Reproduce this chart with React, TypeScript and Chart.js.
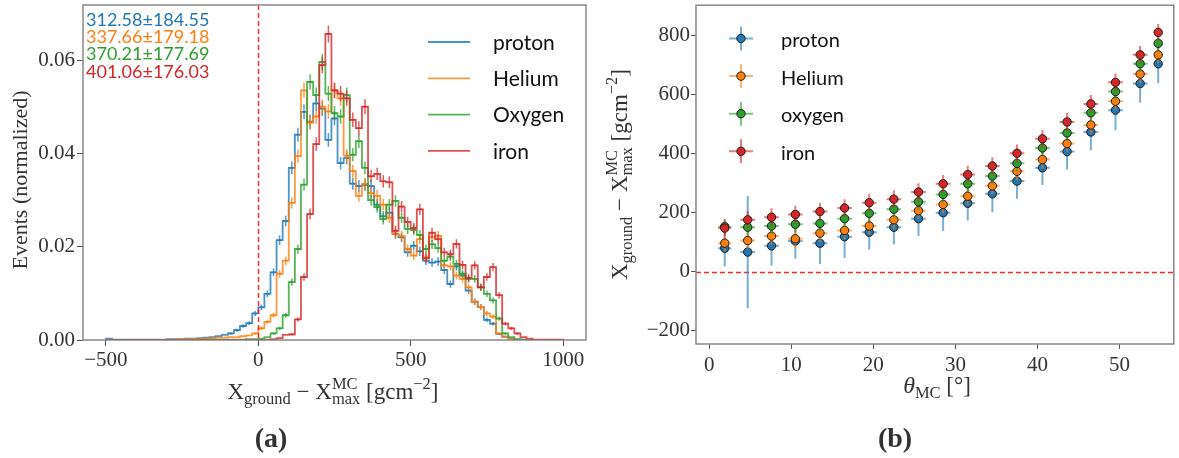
import React, { useEffect, useRef } from "react";
import { Chart, registerables } from "chart.js";

Chart.register(...registerables);

const SERIF = "'Liberation Serif', 'DejaVu Serif', serif";
const SANS = "Lato, 'DejaVu Sans', sans-serif";
const TEXT = "#333333";
const FRAME = "#808080";

const BLUE = "#1f77b4";
const ORANGE = "#ff7f0e";
const GREEN = "#2ca02c";
const RED = "#d62728";

// ---------------- panel (a): X_ground - X_max distributions ----------------
const BIN_START = -500;
const BIN_WIDTH = 20;
const HIST_EVENTS = 20000; // events per primary, sets the Poisson error bars

const HIST_PROTON = [
  0.0003, 0.0001, 0.0001, 0.0001, 0.0001, 0.0001, 0.0001, 0.0001, 0.0001, 0.0001,
  0.0002, 0.0002, 0.0002, 0.0003, 0.0003, 0.0004, 0.0005, 0.0006, 0.0008, 0.0011,
  0.0014, 0.0021, 0.0030, 0.0036, 0.0057, 0.0070, 0.0099, 0.0145, 0.0214, 0.0255,
  0.0369, 0.0440, 0.0489, 0.0468, 0.0507, 0.0496, 0.0429, 0.0475, 0.0379, 0.0390,
  0.0335, 0.0330, 0.0332, 0.0330, 0.0290, 0.0265, 0.0273, 0.0228, 0.0220, 0.0188,
  0.0202, 0.0190, 0.0170, 0.0166, 0.0168, 0.0150, 0.0120, 0.0158, 0.0138, 0.0106,
  0.0082, 0.0071, 0.0043, 0.0035, 0.0013, 0.0007, 0.0003, 0.0001, 0.0001, 0,
  0, 0, 0, 0, 0,
];
const HIST_HELIUM = [
  0, 0, 0, 0, 0, 0, 0, 0, 0, 0,
  0.0001, 0.0001, 0.0002, 0.0002, 0.0002, 0.0003, 0.0003, 0.0004, 0.0005, 0.0005,
  0.0006, 0.0006, 0.0008, 0.0010, 0.0014, 0.0025, 0.0039, 0.0053, 0.0142, 0.0170,
  0.0294, 0.0394, 0.0535, 0.0466, 0.0479, 0.0500, 0.0490, 0.0535, 0.0518, 0.0395,
  0.0362, 0.0309, 0.0335, 0.0315, 0.0309, 0.0290, 0.0262, 0.0227, 0.0223, 0.0195,
  0.0181, 0.0216, 0.0177, 0.0220, 0.0223, 0.0160, 0.0158, 0.0138, 0.0131, 0.0113,
  0.0082, 0.0071, 0.0057, 0.0050, 0.0014, 0.0007, 0.0003, 0.0001, 0, 0,
  0, 0, 0, 0, 0,
];
const HIST_OXYGEN = [
  0, 0, 0, 0, 0, 0, 0, 0, 0, 0,
  0, 0, 0, 0, 0, 0.0001, 0.0001, 0.0001, 0.0001, 0.0001,
  0.0001, 0.0001, 0.0001, 0.0002, 0.0002, 0.0003, 0.0006, 0.0014, 0.0025, 0.0053,
  0.0124, 0.0195, 0.0333, 0.0553, 0.0525, 0.0596, 0.0528, 0.0486, 0.0479, 0.0525,
  0.0397, 0.0426, 0.0369, 0.0300, 0.0285, 0.0259, 0.0290, 0.0298, 0.0262, 0.0238,
  0.0236, 0.0225, 0.0195, 0.0205, 0.0197, 0.0170, 0.0179, 0.0163, 0.0142, 0.0131,
  0.0131, 0.0113, 0.0099, 0.0085, 0.0046, 0.0014, 0.0006, 0.0002, 0.0001, 0,
  0, 0, 0, 0, 0,
];
const HIST_IRON = [
  0, 0, 0, 0, 0, 0, 0, 0, 0, 0,
  0, 0, 0, 0, 0, 0, 0, 0, 0, 0,
  0, 0, 0, 0, 0, 0, 0.0001, 0.0002, 0.0004, 0.0011,
  0.0012, 0.0044, 0.0135, 0.0270, 0.0420, 0.0589, 0.0656, 0.0535, 0.0528, 0.0518,
  0.0472, 0.0454, 0.0500, 0.0351, 0.0356, 0.0340, 0.0338, 0.0234, 0.0286, 0.0253,
  0.0240, 0.0280, 0.0175, 0.0230, 0.0216, 0.0188, 0.0184, 0.0206, 0.0161, 0.0133,
  0.0160, 0.0113, 0.0135, 0.0156, 0.0096, 0.0035, 0.0025, 0.0014, 0.0006, 0.0003,
  0.0001, 0.0001, 0.0001, 0.0001, 0.0001,
];
const HIST_LABELS = ["proton", "Helium", "Oxygen", "iron"];
const HIST_MEANS = ["312.58±184.55", "337.66±179.18", "370.21±177.69", "401.06±176.03"];
const HIST_X_TICKS = [-500, 0, 500, 1000];
const HIST_Y_TICKS = [0, 0.02, 0.04, 0.06];

// ---------------- panel (b): offset versus zenith angle ----------------
const THETA = [1.9, 4.7, 7.6, 10.5, 13.5, 16.5, 19.5, 22.5, 25.5, 28.5, 31.5, 34.5, 37.5, 40.6, 43.6, 46.5, 49.5, 52.5, 54.7];
const THETA_ERR = [0.8, 0.9, 0.9, 0.9, 0.9, 0.9, 0.9, 0.9, 0.9, 0.9, 0.9, 0.9, 0.9, 0.9, 0.9, 0.9, 0.9, 0.9, 0.3];
const OFFSET_PROTON = [79, 66, 87, 103, 96, 118, 133, 150, 179, 199, 231, 263, 306, 351, 406, 472, 546, 636, 703];
const OFFSET_PROTON_ERR = [62, 190, 67, 60, 70, 72, 58, 58, 59, 62, 58, 62, 60, 58, 61, 62, 68, 65, 65];
const OFFSET_HELIUM = [96, 105, 120, 111, 130, 139, 154, 175, 206, 227, 255, 290, 339, 379, 433, 496, 576, 668, 733];
const OFFSET_HELIUM_ERR = [28, 30, 30, 32, 30, 30, 28, 30, 28, 30, 30, 28, 30, 30, 28, 30, 30, 30, 28];
const OFFSET_OXYGEN = [152, 150, 154, 160, 163, 179, 197, 211, 236, 261, 297, 323, 366, 418, 469, 537, 609, 703, 772];
const OFFSET_OXYGEN_ERR = [26, 28, 27, 28, 28, 27, 28, 27, 28, 28, 27, 28, 28, 27, 28, 28, 28, 28, 28];
const OFFSET_IRON = [147, 175, 184, 193, 203, 215, 233, 245, 269, 297, 328, 357, 400, 449, 506, 567, 640, 733, 809];
const OFFSET_IRON_ERR = [28, 30, 30, 30, 30, 30, 30, 30, 30, 30, 30, 30, 30, 30, 30, 30, 30, 30, 28];
const OFFSET_LABELS = ["proton", "Helium", "oxygen", "iron"];
const THETA_TICKS = [0, 10, 20, 30, 40, 50];
const OFFSET_TICKS = [-200, 0, 200, 400, 600, 800];

// ---------------- helpers ----------------
function rgba(hex: string, a: number) {
  const n = parseInt(hex.slice(1), 16);
  return `rgba(${n >> 16},${(n >> 8) & 255},${n & 255},${a})`;
}
const minus = (v: number) => (v < 0 ? "\u2212" + Math.abs(v) : String(v));

type Seg = { text: string; size: number; dy?: number; italic?: boolean; weight?: string; under?: { text: string; size: number; dy: number } };

function drawRichText(ctx: CanvasRenderingContext2D, segs: Seg[], x: number, y: number, rotated: boolean) {
  ctx.save();
  ctx.translate(x, y);
  if (rotated) ctx.rotate(-Math.PI / 2);
  ctx.fillStyle = TEXT;
  ctx.textBaseline = "alphabetic";
  ctx.textAlign = "left";
  const fontOf = (s: { size: number; italic?: boolean; weight?: string }) =>
    `${s.italic ? "italic " : ""}${s.weight ?? ""} ${s.size}px ${SERIF}`;
  const widths = segs.map((s) => {
    ctx.font = fontOf(s);
    let w = ctx.measureText(s.text).width;
    if (s.under) {
      ctx.font = fontOf(s.under);
      w = Math.max(w, ctx.measureText(s.under.text).width);
    }
    return w;
  });
  let cx = -widths.reduce((a, b) => a + b, 0) / 2;
  segs.forEach((s, i) => {
    ctx.font = fontOf(s);
    ctx.fillText(s.text, cx, s.dy ?? 0);
    if (s.under) {
      ctx.font = fontOf(s.under);
      ctx.fillText(s.under.text, cx, s.under.dy);
    }
    cx += widths[i];
  });
  ctx.restore();
}

const OFFSET_TITLE: Seg[] = [
  { text: "X", size: 23 },
  { text: "ground", size: 16.5, dy: 5 },
  { text: " \u2212 ", size: 23 },
  { text: "X", size: 23 },
  { text: "MC", size: 16.5, dy: -10, under: { text: "max", size: 16.5, dy: 5 } },
  { text: " [gcm", size: 23 },
  { text: "\u22122", size: 16.5, dy: -10 },
  { text: "]", size: 23 },
];
const THETA_TITLE: Seg[] = [
  { text: "\u03b8", size: 24, italic: true },
  { text: "MC", size: 16.5, dy: 5 },
  { text: " [\u00b0]", size: 23 },
];

// outline of a histogram: one point per bin edge, held flat across each bin
function stepPoints(values: number[]) {
  const pts = [{ x: BIN_START, y: 0 }];
  values.forEach((v, i) => pts.push({ x: BIN_START + i * BIN_WIDTH, y: v }));
  const end = BIN_START + values.length * BIN_WIDTH;
  pts.push({ x: end, y: values[values.length - 1] });
  pts.push({ x: end, y: 0 });
  return pts;
}

const tickFont = { family: SERIF, size: 21 };

const frame = {
  id: "frame",
  afterDatasetsDraw(chart: any) {
    const { ctx, chartArea: a } = chart;
    ctx.save();
    ctx.strokeStyle = FRAME;
    ctx.lineWidth = 1.4;
    ctx.strokeRect(a.left, a.top, a.right - a.left, a.bottom - a.top);
    ctx.restore();
  },
};

// ---------------- chart (a) ----------------
function histConfig(): any {
  const series = [
    { label: HIST_LABELS[0], values: HIST_PROTON, color: BLUE },
    { label: HIST_LABELS[1], values: HIST_HELIUM, color: ORANGE },
    { label: HIST_LABELS[2], values: HIST_OXYGEN, color: GREEN },
    { label: HIST_LABELS[3], values: HIST_IRON, color: RED },
  ];
  const datasets = series.map((s, k) => ({
    type: "line",
    label: s.label,
    data: stepPoints(s.values),
    stepped: "before",
    borderColor: rgba(s.color, 0.8),
    borderWidth: 1.8,
    pointRadius: 0,
    fill: false,
    order: 4 - k,
    hist: s.values,
    baseColor: s.color,
  }));

  const histExtras = {
    id: "histExtras",
    afterDatasetDraw(chart: any, args: any) {
      const ds = chart.data.datasets[args.index];
      const { ctx } = chart;
      const xs = chart.scales.x;
      const ys = chart.scales.y;
      ctx.save();
      ctx.strokeStyle = rgba(ds.baseColor, 0.75);
      ctx.lineWidth = 1.5;
      ds.hist.forEach((v: number, i: number) => {
        if (v < 0.0012) return;
        const err = Math.sqrt(v / HIST_EVENTS);
        const px = xs.getPixelForValue(BIN_START + (i + 0.5) * BIN_WIDTH);
        ctx.beginPath();
        ctx.moveTo(px, ys.getPixelForValue(v - err));
        ctx.lineTo(px, ys.getPixelForValue(v + err));
        const py = ys.getPixelForValue(v);
        ctx.moveTo(px - 2.5, py);
        ctx.lineTo(px + 2.5, py);
        ctx.stroke();
      });
      ctx.restore();
    },
    afterDatasetsDraw(chart: any) {
      const { ctx, chartArea: a } = chart;
      const px = Math.round(chart.scales.x.getPixelForValue(0)) + 0.5;
      ctx.save();
      ctx.strokeStyle = "rgba(255,20,20,0.9)";
      ctx.lineWidth = 1.4;
      ctx.setLineDash([5, 3]);
      ctx.beginPath();
      ctx.moveTo(px, a.top);
      ctx.lineTo(px, a.bottom);
      ctx.stroke();
      ctx.restore();
    },
    afterDraw(chart: any) {
      const { ctx } = chart;
      // legend
      ctx.save();
      series.forEach((s, i) => {
        const y = 42 + 36.3 * i;
        ctx.strokeStyle = rgba(s.color, 0.8);
        ctx.lineWidth = 1.8;
        ctx.beginPath();
        ctx.moveTo(428, y);
        ctx.lineTo(470, y);
        ctx.stroke();
        ctx.fillStyle = "#111";
        ctx.font = `21px ${SANS}`;
        ctx.textBaseline = "middle";
        ctx.textAlign = "left";
        ctx.fillText(s.label, 493, y + 1);
      });
      // mean ± spread of each distribution
      HIST_MEANS.forEach((t, i) => {
        ctx.fillStyle = series[i].color;
        ctx.font = `18px ${SANS}`;
        ctx.textBaseline = "middle";
        ctx.textAlign = "left";
        ctx.fillText(t, 86, 20 + 17.3 * i);
      });
      ctx.restore();
      drawRichText(ctx, [{ text: "Events (normalized)", size: 22 }], 27, 180, true);
      drawRichText(ctx, OFFSET_TITLE, 333, 399, false);
      drawRichText(ctx, [{ text: "(a)", size: 28, weight: "bold" }], 271, 447, false);
    },
  };

  return {
    type: "line",
    data: { datasets },
    options: {
      responsive: false,
      animation: false,
      events: [],
      layout: { padding: { left: 0, top: 5, right: 6, bottom: 0 } },
      plugins: { legend: { display: false }, tooltip: { enabled: false } },
      scales: {
        x: {
          type: "linear",
          min: -575,
          max: 1075,
          afterBuildTicks: (s: any) => {
            s.ticks = HIST_X_TICKS.map((v) => ({ value: v }));
          },
          afterFit: (s: any) => {
            s.height = 118;
            s.paddingLeft = 0;
            s.paddingRight = 0;
          },
          ticks: { font: tickFont, color: TEXT, padding: 2, maxRotation: 0, autoSkip: false, callback: (v: number) => minus(v) },
          grid: { drawOnChartArea: false, drawTicks: true, tickLength: 6, tickColor: "#555", tickWidth: 1 },
          border: { display: false },
        },
        y: {
          type: "linear",
          min: 0,
          max: 0.0718,
          afterBuildTicks: (s: any) => {
            s.ticks = HIST_Y_TICKS.map((v) => ({ value: v }));
          },
          afterFit: (s: any) => {
            s.width = 83;
            s.paddingTop = 0;
            s.paddingBottom = 0;
          },
          ticks: { font: tickFont, color: TEXT, padding: 2, autoSkip: false, callback: (v: number) => v.toFixed(2) },
          grid: { drawOnChartArea: false, drawTicks: true, tickLength: 6, tickColor: "#555", tickWidth: 1 },
          border: { display: false },
        },
      },
    },
    plugins: [histExtras, frame],
  };
}

// ---------------- chart (b) ----------------
function offsetConfig(): any {
  const series = [
    { label: OFFSET_LABELS[0], values: OFFSET_PROTON, err: OFFSET_PROTON_ERR, color: BLUE },
    { label: OFFSET_LABELS[1], values: OFFSET_HELIUM, err: OFFSET_HELIUM_ERR, color: ORANGE },
    { label: OFFSET_LABELS[2], values: OFFSET_OXYGEN, err: OFFSET_OXYGEN_ERR, color: GREEN },
    { label: OFFSET_LABELS[3], values: OFFSET_IRON, err: OFFSET_IRON_ERR, color: RED },
  ];
  const datasets = series.map((s, k) => ({
    type: "scatter",
    label: s.label,
    data: THETA.map((t, i) => ({ x: t, y: s.values[i] })),
    pointRadius: 4.2,
    pointBackgroundColor: s.color,
    pointBorderColor: "#1a1a1a",
    pointBorderWidth: 1,
    order: 4 - k,
    yErr: s.err,
    baseColor: s.color,
  }));

  const errorBars = {
    id: "errorBars",
    beforeDatasetsDraw(chart: any) {
      const { ctx, chartArea: a } = chart;
      const py = Math.round(chart.scales.y.getPixelForValue(0)) + 0.5;
      ctx.save();
      ctx.strokeStyle = "rgba(255,20,20,0.9)";
      ctx.lineWidth = 1.4;
      ctx.setLineDash([5, 3]);
      ctx.beginPath();
      ctx.moveTo(a.left, py);
      ctx.lineTo(a.right, py);
      ctx.stroke();
      ctx.restore();
    },
    beforeDatasetDraw(chart: any, args: any) {
      const ds = chart.data.datasets[args.index];
      const { ctx } = chart;
      const xs = chart.scales.x;
      const ys = chart.scales.y;
      ctx.save();
      ctx.strokeStyle = rgba(ds.baseColor, 0.6);
      ctx.lineWidth = 2;
      ds.data.forEach((p: any, i: number) => {
        const e = ds.yErr[i];
        const xe = THETA_ERR[i];
        ctx.beginPath();
        ctx.moveTo(xs.getPixelForValue(p.x), ys.getPixelForValue(p.y - e));
        ctx.lineTo(xs.getPixelForValue(p.x), ys.getPixelForValue(p.y + e));
        ctx.moveTo(xs.getPixelForValue(p.x - xe), ys.getPixelForValue(p.y));
        ctx.lineTo(xs.getPixelForValue(p.x + xe), ys.getPixelForValue(p.y));
        ctx.stroke();
      });
      ctx.restore();
    },
    afterDraw(chart: any) {
      const { ctx } = chart;
      ctx.save();
      series.forEach((s, i) => {
        const cx = 149;
        const cy = 38.5 + 37.6 * i;
        ctx.strokeStyle = rgba(s.color, 0.6);
        ctx.lineWidth = 2;
        ctx.beginPath();
        ctx.moveTo(cx - 12, cy);
        ctx.lineTo(cx + 12, cy);
        ctx.moveTo(cx, cy - 12);
        ctx.lineTo(cx, cy + 12);
        ctx.stroke();
        ctx.beginPath();
        ctx.arc(cx, cy, 4.2, 0, Math.PI * 2);
        ctx.fillStyle = s.color;
        ctx.fill();
        ctx.strokeStyle = "#1a1a1a";
        ctx.lineWidth = 1;
        ctx.stroke();
        ctx.fillStyle = "#111";
        ctx.font = `20px ${SANS}`;
        ctx.textBaseline = "middle";
        ctx.textAlign = "left";
        ctx.fillText(s.label, 189, cy + 2);
      });
      ctx.restore();
      drawRichText(ctx, OFFSET_TITLE, 35, 174.5, true);
      drawRichText(ctx, THETA_TITLE, 345, 393, false);
      drawRichText(ctx, [{ text: "(b)", size: 28, weight: "bold" }], 303, 447, false);
    },
  };

  return {
    type: "scatter",
    data: { datasets },
    options: {
      responsive: false,
      animation: false,
      events: [],
      layout: { padding: { left: 0, top: 5, right: 1, bottom: 0 } },
      plugins: { legend: { display: false }, tooltip: { enabled: false } },
      scales: {
        x: {
          type: "linear",
          min: -1.6,
          max: 56.6,
          afterBuildTicks: (s: any) => {
            s.ticks = THETA_TICKS.map((v) => ({ value: v }));
          },
          afterFit: (s: any) => {
            s.height = 114;
            s.paddingLeft = 0;
            s.paddingRight = 0;
          },
          ticks: { font: tickFont, color: TEXT, padding: 4, maxRotation: 0, autoSkip: false, callback: (v: number) => minus(v) },
          grid: { drawOnChartArea: false, drawTicks: true, tickLength: 5, tickColor: "#555", tickWidth: 1 },
          border: { display: false },
        },
        y: {
          type: "linear",
          min: -245,
          max: 901,
          afterBuildTicks: (s: any) => {
            s.ticks = OFFSET_TICKS.map((v) => ({ value: v }));
          },
          afterFit: (s: any) => {
            s.width = 104;
            s.paddingTop = 0;
            s.paddingBottom = 0;
          },
          ticks: { font: tickFont, color: TEXT, padding: 1, autoSkip: false, callback: (v: number) => minus(v) },
          grid: { drawOnChartArea: false, drawTicks: true, tickLength: 5, tickColor: "#555", tickWidth: 1 },
          border: { display: false },
        },
      },
    },
    plugins: [errorBars, frame],
  };
}

export default function App() {
  const refA = useRef<HTMLCanvasElement>(null);
  const refB = useRef<HTMLCanvasElement>(null);

  useEffect(() => {
    const a = new Chart(refA.current as HTMLCanvasElement, histConfig());
    const b = new Chart(refB.current as HTMLCanvasElement, offsetConfig());
    return () => {
      a.destroy();
      b.destroy();
    };
  }, []);

  return (
    <div style={{ position: "absolute", left: 0, top: 0, width: 1179, height: 458, background: "#fff" }}>
      <canvas ref={refA} width={592} height={458} style={{ position: "absolute", left: 0, top: 0, width: 592, height: 458 }} />
      <canvas ref={refB} width={587} height={458} style={{ position: "absolute", left: 592, top: 0, width: 587, height: 458 }} />
    </div>
  );
}
